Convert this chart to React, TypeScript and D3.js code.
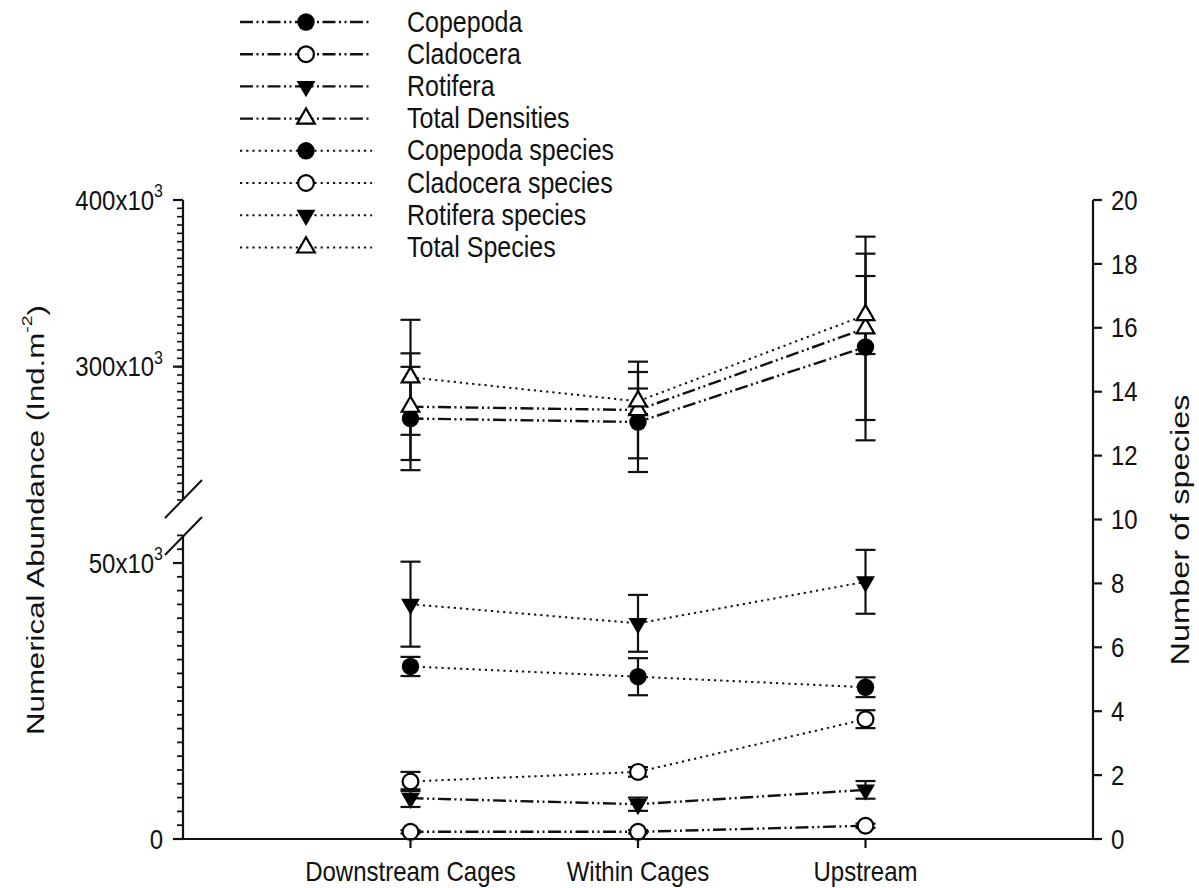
import React from "react";
import * as d3 from "d3";

// Sampling sites along the river
const categories = ["Downstream Cages", "Within Cages", "Upstream"];

// Densities (ind. m^-2), left axis
const copepodaDensity = [268900, 266800, 311800];
const copepodaDensitySE = [31000, 30000, 56000];
const cladoceraDensity = [1300, 1300, 2400];
const cladoceraDensitySE = [300, 300, 400];
const rotiferaDensity = [7400, 6300, 8900];
const rotiferaDensitySE = [1600, 1200, 1600];
const totalDensity = [276000, 274000, 323000];
const totalDensitySE = [32000, 29000, 55000];

// Species richness, right axis
const copepodaSpecies = [5.4, 5.08, 4.75];
const copepodaSpeciesSE = [0.3, 0.58, 0.31];
const cladoceraSpecies = [1.8, 2.1, 3.75];
const cladoceraSpeciesSE = [0.3, 0.15, 0.28];
const rotiferaSpecies = [7.35, 6.75, 8.05];
const rotiferaSpeciesSE = [1.33, 0.89, 1.0];
const totalSpecies = [14.45, 13.7, 16.4];
const totalSpeciesSE = [1.8, 0.4, 1.22];

// Axis tick values
const lowerMajorTicks = [0, 50000];
const upperMajorTicks = [300000, 400000];
const speciesTicks = [0, 2, 4, 6, 8, 10, 12, 14, 16, 18, 20];

type Marker = "filledCircle" | "openCircle" | "filledDown" | "openUp";
type Series = {
  name: string;
  values: number[];
  se: number[];
  marker: Marker;
  axis: "density" | "species";
};

const series: Series[] = [
  { name: "Copepoda", values: copepodaDensity, se: copepodaDensitySE, marker: "filledCircle", axis: "density" },
  { name: "Cladocera", values: cladoceraDensity, se: cladoceraDensitySE, marker: "openCircle", axis: "density" },
  { name: "Rotifera", values: rotiferaDensity, se: rotiferaDensitySE, marker: "filledDown", axis: "density" },
  { name: "Total Densities", values: totalDensity, se: totalDensitySE, marker: "openUp", axis: "density" },
  { name: "Copepoda species", values: copepodaSpecies, se: copepodaSpeciesSE, marker: "filledCircle", axis: "species" },
  { name: "Cladocera species", values: cladoceraSpecies, se: cladoceraSpeciesSE, marker: "openCircle", axis: "species" },
  { name: "Rotifera species", values: rotiferaSpecies, se: rotiferaSpeciesSE, marker: "filledDown", axis: "species" },
  { name: "Total Species", values: totalSpecies, se: totalSpeciesSE, marker: "openUp", axis: "species" },
];

const W = 1199;
const H = 888;
const left = 183;
const right = 1093;
const bottom = 839;
const top = 200;
const H_STRETCH = 1.15; // horizontal labels are drawn a little taller than wide
const V_STRETCH = 1.3; // rotated titles are drawn longer
const FONT = "Liberation Sans, Arial, sans-serif";

const x = d3.scalePoint<string>().domain(categories).range([left, right]).padding(1);
const yLow = d3.scaleLinear().domain([0, 55000]).range([bottom, 535.4]);
const yHigh = d3.scaleLinear().domain([220000, 400000]).range([500, top]);
const yDensity = (v: number) => (v <= 55000 ? yLow(v) : yHigh(v));
const ySpecies = d3.scaleLinear().domain([0, 20]).range([bottom, top]);

const densityDash = "13 3.5 2 3.5 2 3.5";
const speciesDash = "2.2 4";

function markerNode(m: Marker, cx: number, cy: number, key?: string) {
  if (m === "filledCircle") return <circle key={key} cx={cx} cy={cy} r={8.7} fill="#000" />;
  if (m === "openCircle")
    return <circle key={key} cx={cx} cy={cy} r={7.9} fill="#fff" stroke="#000" strokeWidth={2.2} />;
  if (m === "filledDown") {
    const d = d3.symbol().type(d3.symbolTriangle).size(155)() as string;
    return <path key={key} d={d} transform={`translate(${cx},${cy}) rotate(180)`} fill="#000" />;
  }
  const d = d3.symbol().type(d3.symbolTriangle).size(135)() as string;
  return (
    <path key={key} d={d} transform={`translate(${cx},${cy})`} fill="#fff" stroke="#000" strokeWidth={2.2} />
  );
}

function HText(props: {
  x: number;
  y: number;
  size: number;
  anchor?: "start" | "middle" | "end";
  children: React.ReactNode;
}) {
  return (
    <text
      transform={`translate(${props.x},${props.y}) scale(1,${H_STRETCH})`}
      fontFamily={FONT}
      fontSize={props.size}
      textAnchor={props.anchor ?? "start"}
      dominantBaseline="central"
      fill="#111"
    >
      {props.children}
    </text>
  );
}

function VText(props: { x: number; y: number; size: number; children: React.ReactNode }) {
  return (
    <text
      transform={`translate(${props.x},${props.y}) scale(1,${V_STRETCH}) rotate(-90)`}
      fontFamily={FONT}
      fontSize={props.size}
      textAnchor="middle"
      dominantBaseline="central"
      fill="#111"
    >
      {props.children}
    </text>
  );
}

export default function App() {
  const yFor = (s: Series) => (s.axis === "density" ? yDensity : (v: number) => ySpecies(v));

  const lowerMinor = d3.range(0, 55001, 2500);
  const upperMinor = d3.range(220000, 400001, 5000);

  const fmtSup = (v: number) =>
    v === 0 ? (
      "0"
    ) : (
      <>
        {`${v / 1000}x10`}
        <tspan fontSize={16} dy={-8}>
          3
        </tspan>
      </>
    );

  return (
    <svg width={W} height={H} style={{ position: "absolute", left: 0, top: 0, background: "#fff" }}>
      <rect width={W} height={H} fill="#fff" />

      {/* lines */}
      {series.map((s) => {
        const yf = yFor(s);
        const line = d3
          .line<number>()
          .x((_, i) => x(categories[i]) as number)
          .y((v) => yf(v));
        return (
          <path
            key={`l-${s.name}`}
            d={line(s.values) as string}
            fill="none"
            stroke="#111"
            strokeWidth={s.axis === "density" ? 2.4 : 2}
            strokeDasharray={s.axis === "density" ? densityDash : speciesDash}
          />
        );
      })}

      {/* error bars */}
      {series.map((s) => {
        const yf = yFor(s);
        return s.values.map((v, i) => {
          const cx = x(categories[i]) as number;
          const y1 = yf(v + s.se[i]);
          const y2 = yf(v - s.se[i]);
          return (
            <g key={`e-${s.name}-${i}`} stroke="#111" strokeWidth={2.2}>
              <line x1={cx} x2={cx} y1={y1} y2={y2} />
              <line x1={cx - 10} x2={cx + 10} y1={y1} y2={y1} />
              <line x1={cx - 10} x2={cx + 10} y1={y2} y2={y2} />
            </g>
          );
        });
      })}

      {/* markers */}
      {series.map((s) => {
        const yf = yFor(s);
        return s.values.map((v, i) => markerNode(s.marker, x(categories[i]) as number, yf(v), `m-${s.name}-${i}`));
      })}

      {/* left axis, broken */}
      <g stroke="#111" strokeWidth={2.2}>
        <line x1={left} x2={left} y1={yLow(0)} y2={yLow(55000)} />
        <line x1={left} x2={left} y1={yHigh(220000)} y2={yHigh(400000)} />
        {lowerMinor.map((v) => (
          <line key={`lm-${v}`} x1={left - 6} x2={left} y1={yLow(v)} y2={yLow(v)} strokeWidth={1.8} />
        ))}
        {upperMinor.map((v) => (
          <line key={`um-${v}`} x1={left - 6} x2={left} y1={yHigh(v)} y2={yHigh(v)} strokeWidth={1.6} />
        ))}
        {lowerMajorTicks.map((v) => (
          <line key={`lM-${v}`} x1={left - 10} x2={left} y1={yLow(v)} y2={yLow(v)} />
        ))}
        {upperMajorTicks.map((v) => (
          <line key={`uM-${v}`} x1={left - 10} x2={left} y1={yHigh(v)} y2={yHigh(v)} />
        ))}
        {/* break marks */}
        <line x1={165} y1={518} x2={202} y2={480} strokeWidth={2} />
        <line x1={165} y1={555} x2={202} y2={517} strokeWidth={2} />
      </g>
      {[...lowerMajorTicks.map((v) => ({ v, y: yLow(v) })), ...upperMajorTicks.map((v) => ({ v, y: yHigh(v) }))].map(
        (t) => (
          <HText key={`lt-${t.v}`} x={163} y={t.y} size={24} anchor="end">
            {fmtSup(t.v)}
          </HText>
        )
      )}
      <VText x={36} y={520} size={24}>
        {"Numerical Abundance (Ind.m"}
        <tspan fontSize={15} dy={-9}>
          -2
        </tspan>
        <tspan dy={9}>)</tspan>
      </VText>

      {/* right axis */}
      <g stroke="#111" strokeWidth={2.2}>
        <line x1={right} x2={right} y1={ySpecies(0)} y2={ySpecies(20)} />
        {speciesTicks.map((v) => (
          <line key={`rt-${v}`} x1={right} x2={right + 9} y1={ySpecies(v)} y2={ySpecies(v)} />
        ))}
      </g>
      {speciesTicks.map((v) => (
        <HText key={`rl-${v}`} x={1111} y={ySpecies(v)} size={24}>
          {String(v)}
        </HText>
      ))}
      <VText x={1180} y={530} size={25}>
        Number of species
      </VText>

      {/* x axis */}
      <g stroke="#111" strokeWidth={2.2}>
        <line x1={left} x2={right} y1={bottom} y2={bottom} />
        {categories.map((c) => (
          <line key={`xt-${c}`} x1={x(c) as number} x2={x(c) as number} y1={bottom} y2={bottom + 9} />
        ))}
      </g>
      {categories.map((c) => (
        <HText key={`xl-${c}`} x={x(c) as number} y={871} size={24} anchor="middle">
          {c}
        </HText>
      ))}

      {/* legend */}
      {series.map((s, i) => {
        const ly = 22 + i * 32.2;
        return (
          <g key={`lg-${s.name}`}>
            <line
              x1={240}
              x2={372}
              y1={ly}
              y2={ly}
              stroke="#111"
              strokeWidth={s.axis === "density" ? 2.4 : 2}
              strokeDasharray={s.axis === "density" ? densityDash : speciesDash}
            />
            {markerNode(s.marker, 306, ly)}
            <HText x={407} y={ly} size={25}>
              {s.name}
            </HText>
          </g>
        );
      })}
    </svg>
  );
}
